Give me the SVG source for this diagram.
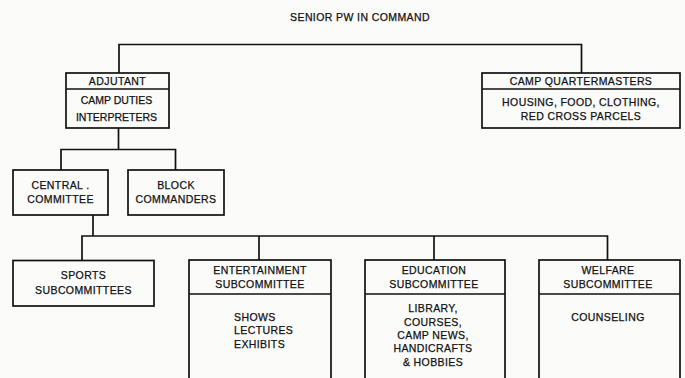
<svg xmlns="http://www.w3.org/2000/svg" width="685" height="378" viewBox="0 0 685 378">
<style>
  .bg{fill:#fbfbfa}
  .box{fill:none;stroke:#111;stroke-width:1.7}
  .ln{fill:none;stroke:#111;stroke-width:1.7}
  text{font-family:"Liberation Sans","Open Sans",sans-serif;font-size:10.5px;letter-spacing:0.4px;fill:#111;stroke:#111;stroke-width:0.25;text-anchor:middle}
  .l{text-anchor:start}
  .n{letter-spacing:0}
</style>
<rect class="bg" x="0" y="0" width="685" height="378"/>
<text id="title" x="360" y="21">SENIOR PW IN COMMAND</text>
<g id="connectors">
  <polyline class="ln" points="119,73 119,44.5 581.5,44.5 581.5,73"/>
  <line class="ln" x1="118.5" y1="128" x2="118.5" y2="149.5"/>
  <polyline class="ln" points="61,170 61,149.5 175.5,149.5 175.5,170"/>
  <line class="ln" x1="93" y1="215" x2="93" y2="236"/>
  <polyline class="ln" points="82,260.5 82,236 607.5,236 607.5,260"/>
  <line class="ln" x1="259" y1="236" x2="259" y2="260"/>
  <line class="ln" x1="434" y1="236" x2="434" y2="260"/>
</g>
<g id="adjutant">
  <rect class="box" x="66" y="73" width="103" height="55"/>
  <line class="ln" x1="66" y1="89" x2="169" y2="89"/>
  <text x="117.5" y="85">ADJUTANT</text>
  <text class="n" x="116.5" y="104">CAMP DUTIES</text>
  <text class="n" x="116.5" y="120.5">INTERPRETERS</text>
</g>
<g id="quartermasters">
  <rect class="box" x="482" y="73" width="198" height="55"/>
  <line class="ln" x1="482" y1="89" x2="680" y2="89"/>
  <text x="581" y="84.5">CAMP QUARTERMASTERS</text>
  <text x="581" y="106">HOUSING, FOOD, CLOTHING,</text>
  <text x="581" y="119.5">RED CROSS PARCELS</text>
</g>
<g id="central">
  <rect class="box" x="13" y="170" width="95" height="45"/>
  <text x="60.5" y="188.5">CENTRAL .</text>
  <text x="60.5" y="202.5">COMMITTEE</text>
</g>
<g id="block">
  <rect class="box" x="128" y="170" width="96" height="45"/>
  <text x="176" y="188.5">BLOCK</text>
  <text x="176" y="202.5">COMMANDERS</text>
</g>
<g id="sports">
  <rect class="box" x="13" y="260.5" width="141" height="45.5"/>
  <text x="83.5" y="278.5">SPORTS</text>
  <text x="83.5" y="293.5">SUBCOMMITTEES</text>
</g>
<g id="entertainment">
  <rect class="box" x="189" y="260" width="142" height="130"/>
  <line class="ln" x1="189" y1="294" x2="331" y2="294"/>
  <text x="260" y="273.5">ENTERTAINMENT</text>
  <text x="260" y="287.5">SUBCOMMITTEE</text>
  <text class="l" x="234" y="321">SHOWS</text>
  <text class="l" x="234" y="334">LECTURES</text>
  <text class="l" x="234" y="347.5">EXHIBITS</text>
</g>
<g id="education">
  <rect class="box" x="365" y="260" width="140" height="130"/>
  <line class="ln" x1="365" y1="294" x2="505" y2="294"/>
  <text x="434" y="273.5">EDUCATION</text>
  <text x="434" y="287.5">SUBCOMMITTEE</text>
  <text x="433" y="312">LIBRARY,</text>
  <text x="433" y="325.5">COURSES,</text>
  <text x="433" y="338.5">CAMP NEWS,</text>
  <text x="433" y="352">HANDICRAFTS</text>
  <text x="433" y="366">&amp; HOBBIES</text>
</g>
<g id="welfare">
  <rect class="box" x="539" y="260" width="141" height="130"/>
  <line class="ln" x1="539" y1="294" x2="680" y2="294"/>
  <text x="608" y="273.5">WELFARE</text>
  <text x="608" y="287.5">SUBCOMMITTEE</text>
  <text x="608" y="321">COUNSELING</text>
</g>
</svg>
